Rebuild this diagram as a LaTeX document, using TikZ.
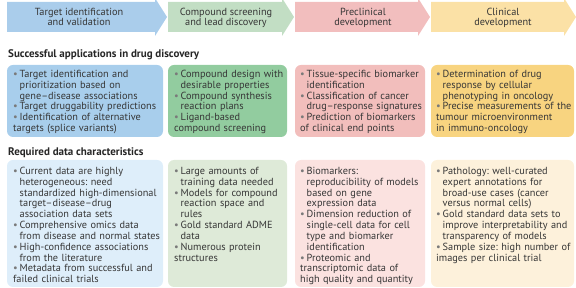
\documentclass[tikz,border=0pt]{standalone}
\usepackage{fontspec}
\setmainfont{PT Sans}
\definecolor{txtgray}{HTML}{363636}
\definecolor{bulgray}{HTML}{7A7A7A}
\definecolor{arrblue}{HTML}{AACDEB}
\definecolor{arrgreen}{HTML}{C2DEC4}
\definecolor{arrpink}{HTML}{F2BEBE}
\definecolor{arryellow}{HTML}{FBE1A6}
\definecolor{appblue}{HTML}{A8CEEC}
\definecolor{appgreen}{HTML}{92CC9F}
\definecolor{apppink}{HTML}{F2BEBC}
\definecolor{appyellow}{HTML}{F8D480}
\definecolor{reqblue}{HTML}{DEEEFA}
\definecolor{reqgreen}{HTML}{DEEAD8}
\definecolor{reqpink}{HTML}{FBE2E0}
\definecolor{reqyellow}{HTML}{FDF1DB}
\frenchspacing
\newcommand\itemfont{\fontsize{10.3}{10.85}\selectfont}
\newcommand\itm{\par\hangindent=6.5pt\hangafter=1\noindent\makebox[6.5pt][l]{\textcolor{bulgray}{\textbullet}}}

\begin{document}
\begin{tikzpicture}[x=1pt,y=-1pt,
	panel/.style={rounded corners=6pt},
	items/.style={anchor=base west, inner sep=0pt, text width=170pt, font=\itemfont\frenchspacing\raggedright, text=txtgray},
	stagelabel/.style={anchor=base, align=center, inner sep=0pt, font=\itemfont, text=txtgray},
	heading/.style={anchor=base west, inner sep=0pt, font=\fontsize{11}{12}\selectfont\bfseries, text=black!85}]
			\useasboundingbox (0,0) rectangle (576,288);
			\foreach \xa/\xb/\xt/\col in {7/155/167/arrblue, 168/282/294/arrgreen, 295/418/430/arrpink, 431/564/576/arryellow}
				\fill[\col] (\xa,2) -- (\xb,2) -- (\xb,-2) -- (\xt,17) -- (\xb,36) -- (\xb,32) -- (\xa,32) -- cycle;
			\node[stagelabel] (target) at (79,26) {Target identification\\and validation};
			\node[stagelabel] (screen) at (226,26) {Compound screening\\and lead discovery};
			\node[stagelabel] (precl) at (363,26) {Preclinical\\development};
			\node[stagelabel] (clin) at (503,26) {Clinical\\development};
			\node[heading] (apphead) at (8,57.5) {Successful applications in drug discovery};
			\node[heading] (reqhead) at (8,155.5) {Required data characteristics};
			\foreach \xa/\xb/\col in {7/163/blue, 168/287/green, 295/425/pink, 431/574/yellow} {
				\fill[panel, app\col] (\xa,65) rectangle (\xb,137);
				\fill[panel, req\col] (\xa,160) rectangle (\xb,287);
			}
			\node[items] (appt) at (13,66.5) {\itm Target identification and\newline prioritization based on\newline gene–disease associations
				\itm Target druggability predictions
				\itm Identification of alternative\newline targets (splice variants)};
			\node[items] (apps) at (174,66.5) {\itm Compound design with\newline desirable properties
				\itm Compound synthesis\newline reaction plans
				\itm Ligand-based\newline compound screening};
			\node[items] (appp) at (300,66.5) {\itm Tissue-specific biomarker\newline identification
				\itm Classification of cancer\newline drug–response signatures
				\itm Prediction of biomarkers\newline of clinical end points};
			\node[items] (appc) at (436,66.5) {\itm Determination of drug\newline response by cellular\newline phenotyping in oncology
				\itm Precise measurements of the\newline tumour microenvironment\newline in immuno-oncology};
			\node[items] (reqt) at (13,163.5) {\itm Current data are highly\newline heterogeneous: need\newline standardized high-dimensional\newline target–disease–drug\newline association data sets
				\itm Comprehensive omics data\newline from disease and normal states
				\itm High-confidence associations\newline from the literature
				\itm Metadata from successful and\newline failed clinical trials};
			\node[items] (reqs) at (174,163.5) {\itm Large amounts of\newline training data needed
				\itm Models for compound\newline reaction space and\newline rules
				\itm Gold standard ADME\newline data
				\itm Numerous protein\newline structures};
			\node[items] (reqp) at (300,163.5) {\itm Biomarkers:\newline reproducibility of models\newline based on gene\newline expression data
				\itm Dimension reduction of\newline single-cell data for cell\newline type and biomarker\newline identification
				\itm Proteomic and\newline transcriptomic data of\newline high quality and quantity};
			\node[items] (reqc) at (436,163.5) {\itm Pathology: well-curated\newline expert annotations for\newline broad-use cases (cancer\newline versus normal cells)
				\itm Gold standard data sets to\newline improve interpretability and\newline transparency of models
				\itm Sample size: high number of\newline images per clinical trial};
\end{tikzpicture}
\end{document}
